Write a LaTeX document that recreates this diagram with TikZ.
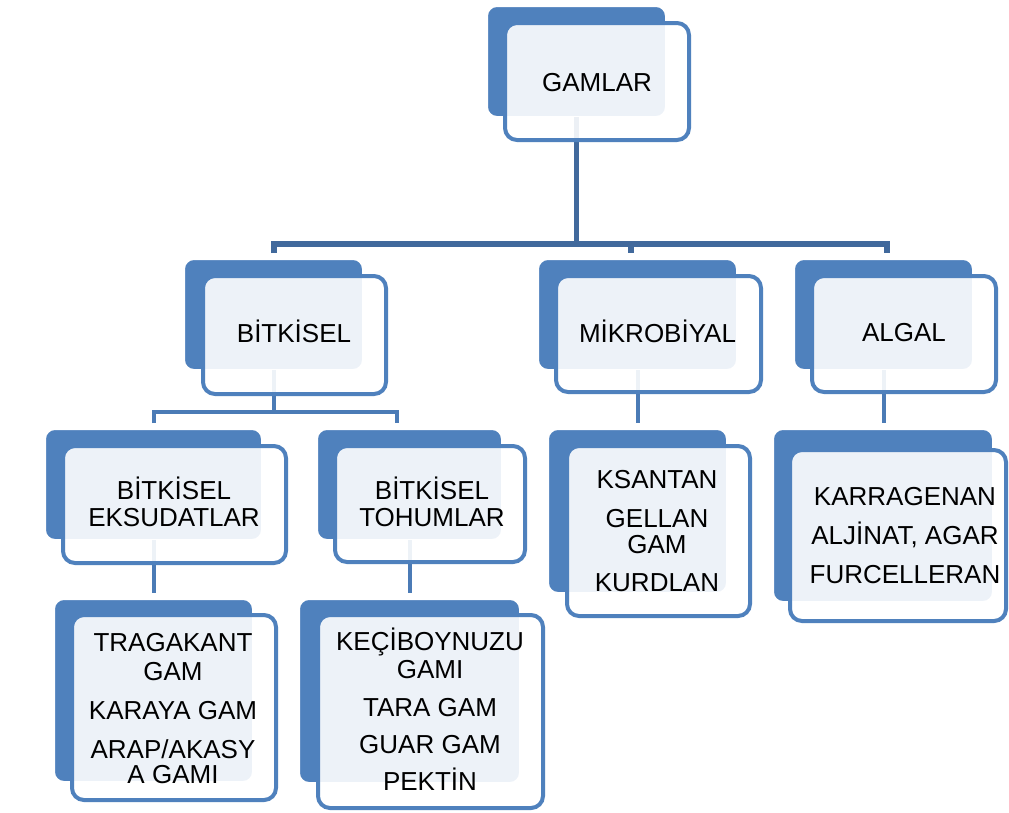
\documentclass[tikz,border=0pt]{standalone}
\usepackage{fontspec}
\setmainfont{Liberation Sans}
\usetikzlibrary{calc}
\definecolor{acc}{HTML}{4F81BD}
\definecolor{lnA}{HTML}{41699C}
\definecolor{lnB}{HTML}{4B7BB6}
\tikzset{
 backbox/.style={rectangle, rounded corners=10pt, fill=acc, draw=white, line width=2pt, inner sep=0pt, outer sep=0pt},
 frontbox/.style={rectangle, rounded corners=12pt, fill=white, fill opacity=0.9, draw=acc, line width=4pt, inner sep=0pt, outer sep=0pt},
 lbl/.style={inner sep=0pt, outer sep=0pt, text height=18.6pt, text depth=0pt, font=\fontsize{26}{28}\selectfont, text=black},
 topconn/.style={draw=lnA, line width=5.5pt},
 subconn/.style={draw=lnB, line width=4pt},
}
\begin{document}
\begin{tikzpicture}[x=1pt,y=-1pt]
\useasboundingbox (0,0) rectangle (1009,812);
\fill[white] (0,0) rectangle (1009,812);

% back boxes
\node[backbox, minimum width=179pt, minimum height=111pt] (gamB) at (576.5,61.5) {};
\node[backbox, minimum width=179pt, minimum height=111pt] (bitB) at (273.5,314.5) {};
\node[backbox, minimum width=199pt, minimum height=111pt] (mikB) at (637.5,314.5) {};
\node[backbox, minimum width=179pt, minimum height=111pt] (algB) at (883.5,314.5) {};
\node[backbox, minimum width=217pt, minimum height=111pt] (eksB) at (153.5,484.5) {};
\node[backbox, minimum width=185pt, minimum height=111pt] (tohB) at (409.5,484.5) {};
\node[backbox, minimum width=179pt, minimum height=164pt] (ksaB) at (637.5,511) {};
\node[backbox, minimum width=220pt, minimum height=173pt] (karB) at (883,515.5) {};
\node[backbox, minimum width=199pt, minimum height=183pt] (traB) at (153.5,690.5) {};
\node[backbox, minimum width=221pt, minimum height=184pt] (kecB) at (409.5,691) {};

% connectors
\coordinate (barY) at (0,244);
\coordinate (dBit) at (274,253);
\coordinate (dMik) at (631,253);
\coordinate (dAlg) at (887,253);
\draw[topconn] (gamB.south) -- (gamB.south |- barY);
\draw[topconn] (dBit) -- (dBit |- barY) -- (dAlg |- barY) -- (dAlg);
\draw[topconn] (dMik |- barY) -- (dMik);

\coordinate (barZ) at (0,412);
\coordinate (dEks) at (153.5,423);
\coordinate (dToh) at (397,423);
\draw[subconn] (bitB.south) -- (bitB.south |- barZ);
\draw[subconn] (dEks) -- (dEks |- barZ) -- (dToh |- barZ) -- (dToh);
\draw[subconn, shorten >=6pt] (mikB.south) -- (ksaB.north);
\draw[subconn, shorten >=6pt] (algB.south) -- (algB.south |- karB.north);
\draw[subconn, shorten >=6pt] (eksB.south) -- (traB.north);
\draw[subconn, shorten >=6pt] (tohB.south) -- (kecB.north);

% front boxes
\node[frontbox, minimum width=184pt, minimum height=117pt] (gamF) at (597,81.5) {};
\node[frontbox, minimum width=183pt, minimum height=118pt] (bitF) at (294.5,335) {};
\node[frontbox, minimum width=205pt, minimum height=116pt] (mikF) at (658.5,334) {};
\node[frontbox, minimum width=184pt, minimum height=116pt] (algF) at (904,334) {};
\node[frontbox, minimum width=223pt, minimum height=117pt] (eksF) at (174.5,504.5) {};
\node[frontbox, minimum width=190pt, minimum height=116pt] (tohF) at (430,504) {};
\node[frontbox, minimum width=183pt, minimum height=170pt] (ksaF) at (658.5,531) {};
\node[frontbox, minimum width=216pt, minimum height=171pt] (karF) at (898,535.5) {};
\node[frontbox, minimum width=204pt, minimum height=185pt] (traF) at (174,707.5) {};
\node[frontbox, minimum width=225pt, minimum height=193pt] (kecF) at (430.5,711.5) {};

% texts
\node[lbl] (tGam) at (597,82) {GAMLAR};
\node[lbl] (tBit) at (294,333) {BİTKİSEL};
\node[lbl] (tMik) at (657.5,333) {MİKROBİYAL};
\node[lbl] (tAlg) at (904,332) {ALGAL};

\node[lbl] (tEks1) at (174,490) {BİTKİSEL};
\node[lbl] (tEks2) at (174,517) {EKSUDATLAR};
\node[lbl] (tToh1) at (432,490) {BİTKİSEL};
\node[lbl] (tToh2) at (432,517) {TOHUMLAR};

\node[lbl] (tKsa1) at (657,479) {KSANTAN};
\node[lbl] (tKsa2) at (657,518.5) {GELLAN};
\node[lbl] (tKsa3) at (657,544) {GAM};
\node[lbl] (tKsa4) at (657,582) {KURDLAN};

\node[lbl] (tKar1) at (905,496) {KARRAGENAN};
\node[lbl] (tKar2) at (905,535) {ALJİNAT, AGAR};
\node[lbl] (tKar3) at (905,574) {FURCELLERAN};

\node[lbl] (tTra1) at (173,642) {TRAGAKANT};
\node[lbl] (tTra2) at (173,671) {GAM};
\node[lbl] (tTra3) at (173,710) {KARAYA GAM};
\node[lbl] (tTra4) at (173,749) {ARAP/AKASY};
\node[lbl] (tTra5) at (173,774) {A GAMI};

\node[lbl] (tKec1) at (430,641) {KEÇİBOYNUZU};
\node[lbl] (tKec2) at (430,669) {GAMI};
\node[lbl] (tKec3) at (430,707) {TARA GAM};
\node[lbl] (tKec4) at (430,744) {GUAR GAM};
\node[lbl] (tKec5) at (430,781) {PEKTİN};
\end{tikzpicture}
\end{document}
